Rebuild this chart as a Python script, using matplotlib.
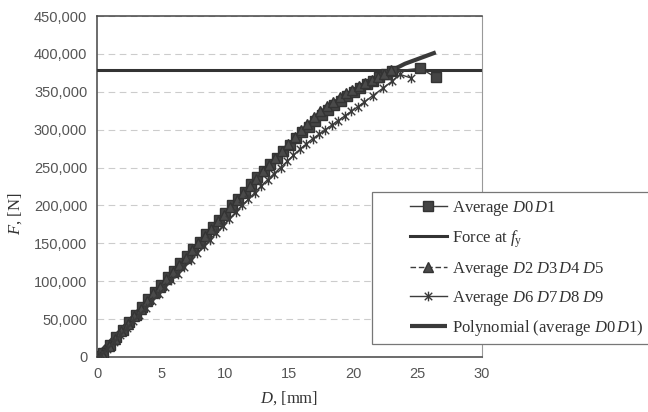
import numpy as np
import matplotlib
matplotlib.use("Agg")
import matplotlib.pyplot as plt
from matplotlib.path import Path
from matplotlib.patches import Rectangle
from matplotlib.ticker import FuncFormatter, MultipleLocator

plt.rcParams['mathtext.fontset'] = 'custom'
plt.rcParams['mathtext.rm'] = 'Liberation Serif'
plt.rcParams['mathtext.it'] = 'Liberation Serif:italic'

# ---------------- data ----------------
d01_D = [0, 0.2, 0.5, 1.0, 1.5, 2.0, 2.5, 3.0, 3.5, 4.0, 4.5, 5.0, 5.5, 6.0, 6.5, 7.0, 7.5,
         8.0, 8.5, 9.0, 9.5, 10.0, 10.5, 11.0, 11.5, 12.0, 12.5, 13.0, 13.5, 14.0, 14.5,
         15.0, 15.5, 16.0, 16.5, 17.0, 17.5, 18.0, 18.5, 19.0, 19.5, 20.0, 20.5, 21.0,
         21.5, 22.0, 22.5, 23.0, 25.2, 26.4]
d01_F = [0, 1000, 5000, 16000, 26000, 36000, 46000, 56000, 66000, 76000, 86000, 95000,
         105000, 114000, 124000, 133000, 143000, 152000, 162000, 171000, 181000, 190000,
         200000, 209000, 218000, 228000, 237000, 246000, 255000, 263000, 272000, 280000,
         289000, 297000, 304000, 312000, 319000, 326000, 332000, 338000, 344000, 350000,
         355000, 360000, 364000, 369000, 373000, 377000, 381000, 369000]

d25_D = [0, 0.4, 0.9, 1.4, 1.9, 2.4, 2.9, 3.4, 3.9, 4.4, 4.9, 5.4, 5.9, 6.4, 6.9, 7.4, 7.9,
         8.4, 8.9, 9.4, 9.9, 10.4, 10.9, 11.4, 11.9, 12.4, 12.9, 13.4, 13.9, 14.4, 14.9,
         15.4, 15.9, 16.4, 16.9, 17.4, 17.9, 18.4, 18.9, 19.4, 19.9, 20.4, 20.9, 21.4,
         21.9, 22.4, 22.9]
d25_F = [0, 4000, 14000, 24000, 34000, 44000, 54000, 64000, 74000, 84000, 93000, 103000,
         112000, 122000, 131000, 141000, 150000, 160000, 169000, 179000, 188000, 198000,
         207000, 216000, 226000, 235000, 245000, 254000, 263000, 272000, 281000, 290000,
         299000, 308000, 317000, 325000, 331000, 337000, 343000, 348000, 353000, 358000,
         362000, 366000, 370000, 374000, 379000]

d69_D = [0, 0.3, 0.8, 1.3, 1.8, 2.3, 2.8, 3.3, 3.8, 4.3, 4.8, 5.3, 5.8, 6.3, 6.8, 7.3, 7.8,
         8.3, 8.8, 9.3, 9.8, 10.3, 10.8, 11.3, 11.8, 12.3, 12.8, 13.3, 13.8, 14.3, 14.8,
         15.3, 15.8, 16.3, 16.8, 17.3, 17.8, 18.3, 18.8, 19.3, 19.8, 20.3, 20.8, 21.5,
         22.3, 23.0, 23.6, 24.5]
d69_F = [0, 3000, 11000, 20000, 29000, 38000, 47000, 56000, 65000, 74000, 83000, 92000,
         101000, 110000, 119000, 128000, 137000, 146000, 155000, 164000, 173000, 182000,
         191000, 200000, 208000, 217000, 226000, 234000, 242000, 250000, 258000, 266000,
         274000, 281000, 288000, 294000, 300000, 306000, 312000, 318000, 324000, 330000,
         336000, 345000, 355000, 364000, 373000, 368000]

poly_D = [0, 2, 4, 6, 8, 10, 12, 14, 16, 18, 20, 22, 24, 26.4]
poly_F = [2000, 38000, 76000, 113000, 151000, 188000, 225000, 261000, 295000, 325000,
          350000, 370000, 387000, 402000]

force_fy = 379000
x_limits = [0, 30]
y_limits = [0, 450000]

labels = [r'Average $D0\,D$1',
          r'Force at $f_\mathrm{y}$',
          r'Average $D2\;D3\,D4\;D5$',
          r'Average $D6\;D7\,D8\;D9$',
          r'Polynomial (average $D0\,D$1)']

# ---------------- figure ----------------
W, H = 648, 412
fig = plt.figure(figsize=(W / 100, H / 100), dpi=100)
ax = fig.add_axes([97 / W, 1 - 357 / H, (482 - 97) / W, (357 - 16) / H])

c = '#3c3c3c'
star = Path([(-1, -1), (1, 1), (-1, 1), (1, -1), (0, -1.3), (0, 1.3)],
            [Path.MOVETO, Path.LINETO, Path.MOVETO, Path.LINETO, Path.MOVETO, Path.LINETO])

h1, = ax.plot(d01_D, d01_F, color=c, lw=1.0, marker='s', ms=6.5, mfc='#444444',
              mec='#333333', zorder=4)
h2, = ax.plot(x_limits, [force_fy, force_fy], color='#333333', lw=2.2, zorder=3)
h3, = ax.plot(d25_D, d25_F, color=c, lw=1.0, ls=(0, (4, 2)), marker='^', ms=6.5,
              mfc='#4a4a4a', mec='#333333', zorder=4)
h4, = ax.plot(d69_D, d69_F, color=c, lw=1.0, marker=star, ms=7, mfc='none',
              mec='#3a3a3a', mew=1.0, zorder=5)
h5, = ax.plot(poly_D, poly_F, color='#3a3a3a', lw=3.0, zorder=3,
              solid_capstyle='butt')

ax.set_xlim(*x_limits)
ax.set_ylim(*y_limits)
ax.xaxis.set_major_locator(MultipleLocator(5))
ax.yaxis.set_major_locator(MultipleLocator(50000))
ax.yaxis.set_major_formatter(FuncFormatter(lambda v, p: f'{int(v):,}'))
ax.tick_params(length=0, labelsize=10.5, labelcolor='#555555', pad=7)
for lab in ax.get_xticklabels() + ax.get_yticklabels():
    lab.set_fontfamily('Liberation Sans')

ax.grid(axis='y', color='#cccccc', lw=0.8, ls=(0, (6, 4)))
ax.set_axisbelow(True)
for s in ['left', 'bottom', 'top']:
    ax.spines[s].set_color('#444444')
    ax.spines[s].set_linewidth(1.1)
ax.spines['right'].set_color('#999999')
ax.spines['right'].set_linewidth(0.8)

ax.set_xlabel(r'$D$, [mm]', fontfamily='Liberation Serif', fontsize=12, color='#333333',
              labelpad=6)
ax.set_ylabel(r'$F$, [N]', fontfamily='Liberation Serif', fontsize=12, color='#333333')
ax.yaxis.set_label_coords(-0.19, 0.42)

# legend box
fig.patches.append(Rectangle((372 / W, 1 - 344 / H), 330 / W, (344 - 192) / H,
                             transform=fig.transFigure, facecolor='white',
                             edgecolor='#777777', lw=0.9, zorder=10))
leg = fig.legend([h1, h2, h3, h4, h5], labels, loc='upper left',
                 bbox_to_anchor=(395 / W, 1 - 184 / H), frameon=False,
                 prop={'family': 'Liberation Serif', 'size': 12},
                 handlelength=2.2, handletextpad=0.3, labelspacing=0.6,
                 labelcolor='#333333')
leg.set_zorder(11)

fig.savefig('out.png', dpi=100)
